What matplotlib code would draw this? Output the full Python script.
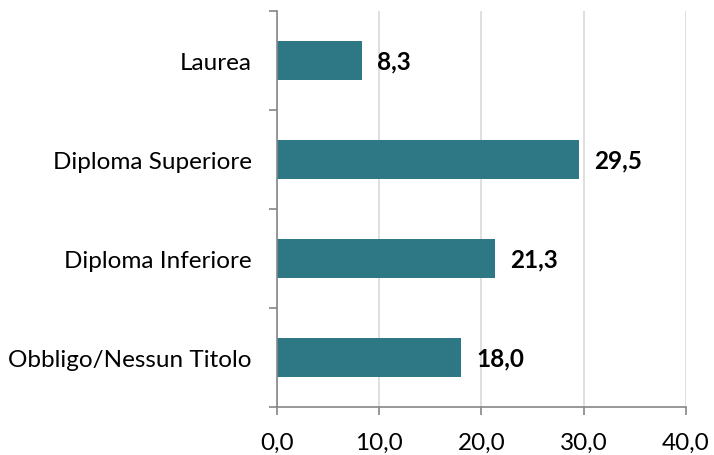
import matplotlib
matplotlib.use("Agg")
import matplotlib.pyplot as plt

categories = ["Obbligo/Nessun Titolo", "Diploma Inferiore", "Diploma Superiore", "Laurea"]
values = [18.0, 21.3, 29.5, 8.3]
xticks = [0, 10, 20, 30, 40]
xticklabels = ["0,0", "10,0", "20,0", "30,0", "40,0"]

plt.rcParams['font.family'] = ['Lato', 'DejaVu Sans']
fig = plt.figure(figsize=(7.14, 4.56), dpi=100)
ax = fig.add_axes([277/714, 1-408/456, (686-277)/714, (408-12)/456])

bar_color = "#2E7785"
ypos = list(range(len(categories)))
ax.barh(ypos, values, height=0.4, color=bar_color, zorder=3)
for y, v in zip(ypos, values):
    ax.annotate(f"{v:.1f}".replace(".", ","), (v, y), xytext=(11, 0), textcoords="offset points",
                ha="left", va="center", fontsize=17.5, fontweight="bold", color="black")

ax.set_xlim(0, 40)
ax.set_ylim(-0.5, len(categories) - 0.5)
ax.set_xticks(xticks)
ax.set_xticklabels(xticklabels, fontsize=17.5)
ax.set_yticks(ypos)
ax.set_yticklabels(categories, fontsize=17.5)
ax.set_yticks([i - 0.5 for i in range(len(categories) + 1)], minor=True)
ax.tick_params(axis='y', which='major', length=0, pad=18)
ax.tick_params(axis='y', which='minor', length=6, color="#868686", width=1.2)
ax.tick_params(axis='x', length=6, color="#868686", width=1.2, pad=12)
ax.grid(axis='x', color="#D9D9D9", linewidth=1.2, zorder=0)
for s in ["top", "right"]:
    ax.spines[s].set_visible(False)
for s in ["left", "bottom"]:
    ax.spines[s].set_color("#868686")
    ax.spines[s].set_linewidth(1.2)
    ax.spines[s].set_zorder(4)

fig.savefig("out.png", dpi=100)
